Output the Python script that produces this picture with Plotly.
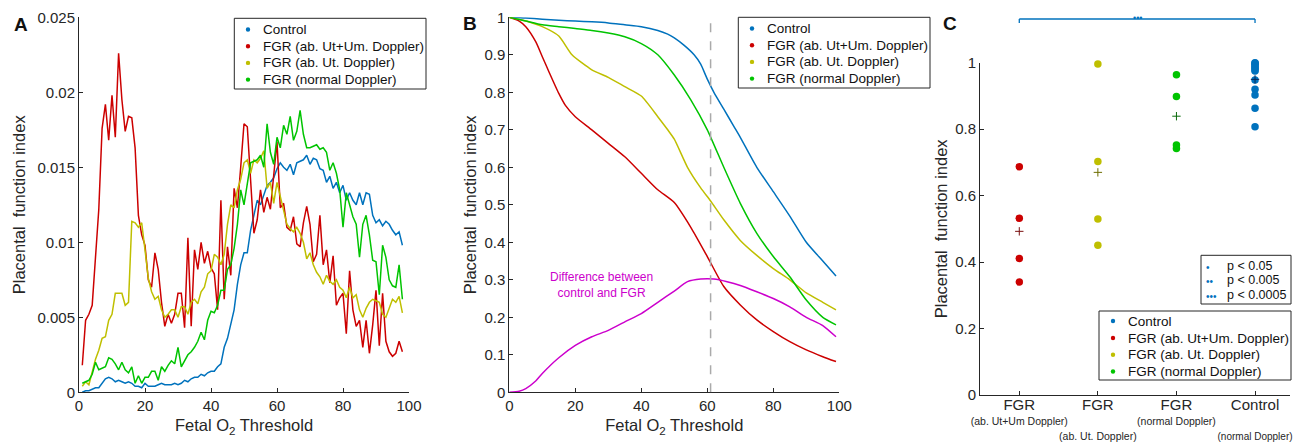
import plotly.graph_objects as go

# ---------------- data ----------------
thr_A = list(range(1, 99))

pfi_control_A = [0.0000, 0.0001, 0.0001, 0.0002, 0.0003, 0.0003, 0.0006, 0.0009, 0.0010, 0.0009,
                 0.0007, 0.0008, 0.0007, 0.0006, 0.0007, 0.0006, 0.0004, 0.0004, 0.0003, 0.0006,
                 0.0004, 0.0004, 0.0004, 0.0005, 0.0006, 0.0005, 0.0005, 0.0005, 0.0006, 0.0005,
                 0.0006, 0.0008, 0.0007, 0.0009, 0.0010, 0.0010, 0.0012, 0.0011, 0.0013, 0.0014,
                 0.0014, 0.0017, 0.0019, 0.0030, 0.0036, 0.0046, 0.0055, 0.0072, 0.0085, 0.0093,
                 0.0093, 0.0108, 0.0118, 0.0128, 0.0125, 0.0132, 0.0138, 0.0140, 0.0143, 0.0149,
                 0.0153, 0.0150, 0.0148, 0.0152, 0.0145, 0.0153, 0.0154, 0.0155, 0.0158, 0.0152,
                 0.0156, 0.0155, 0.0149, 0.0148, 0.0140, 0.0144, 0.0136, 0.0140, 0.0133, 0.0138,
                 0.0128, 0.0133, 0.0128, 0.0125, 0.0133, 0.0125, 0.0133, 0.0132, 0.0118, 0.0113,
                 0.0115, 0.0111, 0.0114, 0.0112, 0.0108, 0.0105, 0.0107, 0.0098]

pfi_utum_A = [0.0018, 0.0048, 0.0052, 0.0058, 0.0090, 0.0122, 0.0176, 0.0192, 0.0168, 0.0198,
              0.0170, 0.0226, 0.0195, 0.0174, 0.0184, 0.0183, 0.0163, 0.0118, 0.0105, 0.0098,
              0.0075, 0.0070, 0.0093, 0.0082, 0.0060, 0.0044, 0.0052, 0.0046, 0.0052, 0.0066,
              0.0066, 0.0043, 0.0103, 0.0044, 0.0095, 0.0082, 0.0100, 0.0086, 0.0094, 0.0083,
              0.0079, 0.0055, 0.0128, 0.0062, 0.0097, 0.0078, 0.0136, 0.0123, 0.0150, 0.0179,
              0.0177, 0.0142, 0.0106, 0.0115, 0.0135, 0.0120, 0.0130, 0.0122, 0.0145, 0.0167,
              0.0123, 0.0126, 0.0110, 0.0108, 0.0117, 0.0099, 0.0097, 0.0113, 0.0124, 0.0112,
              0.0087, 0.0092, 0.0118, 0.0085, 0.0095, 0.0073, 0.0091, 0.0058, 0.0063, 0.0066,
              0.0039, 0.0081, 0.0055, 0.0044, 0.0048, 0.0030, 0.0048, 0.0026, 0.0045, 0.0068,
              0.0031, 0.0066, 0.0034, 0.0027, 0.0024, 0.0026, 0.0034, 0.0027]

pfi_ut_A = [0.0004, 0.0007, 0.0005, 0.0013, 0.0022, 0.0028, 0.0036, 0.0037, 0.0048, 0.0052,
            0.0066, 0.0066, 0.0066, 0.0058, 0.0060, 0.0114, 0.0113, 0.0110, 0.0113, 0.0095,
            0.0076, 0.0067, 0.0062, 0.0064, 0.0055, 0.0050, 0.0052, 0.0055, 0.0055, 0.0050,
            0.0057, 0.0057, 0.0052, 0.0060, 0.0062, 0.0059, 0.0067, 0.0070, 0.0079, 0.0081,
            0.0092, 0.0090, 0.0085, 0.0092, 0.0112, 0.0125, 0.0123, 0.0135, 0.0142, 0.0153,
            0.0155, 0.0146, 0.0155, 0.0153, 0.0156, 0.0161, 0.0136, 0.0140, 0.0126, 0.0140,
            0.0130, 0.0122, 0.0112, 0.0109, 0.0107, 0.0110, 0.0106, 0.0100, 0.0089, 0.0093,
            0.0085, 0.0080, 0.0077, 0.0072, 0.0078, 0.0074, 0.0072, 0.0075, 0.0070, 0.0068,
            0.0063, 0.0070, 0.0063, 0.0065, 0.0055, 0.0050, 0.0056, 0.0060, 0.0062, 0.0061,
            0.0060, 0.0052, 0.0050, 0.0056, 0.0062, 0.0060, 0.0064, 0.0053]

pfi_normal_A = [0.0006, 0.0007, 0.0008, 0.0012, 0.0020, 0.0015, 0.0016, 0.0017, 0.0023, 0.0022,
                0.0019, 0.0015, 0.0020, 0.0015, 0.0013, 0.0017, 0.0006, 0.0011, 0.0006, 0.0010,
                0.0010, 0.0014, 0.0014, 0.0008, 0.0017, 0.0014, 0.0018, 0.0021, 0.0019, 0.0030,
                0.0017, 0.0021, 0.0025, 0.0027, 0.0030, 0.0034, 0.0040, 0.0035, 0.0048, 0.0054,
                0.0053, 0.0058, 0.0068, 0.0068, 0.0082, 0.0085, 0.0096, 0.0112, 0.0135, 0.0125,
                0.0138, 0.0153, 0.0154, 0.0155, 0.0158, 0.0150, 0.0179, 0.0160, 0.0152, 0.0170,
                0.0163, 0.0178, 0.0172, 0.0184, 0.0168, 0.0174, 0.0188, 0.0172, 0.0163, 0.0163,
                0.0164, 0.0165, 0.0162, 0.0163, 0.0160, 0.0148, 0.0153, 0.0146, 0.0135, 0.0110,
                0.0133, 0.0125, 0.0117, 0.0112, 0.0090, 0.0112, 0.0118, 0.0105, 0.0088, 0.0087,
                0.0065, 0.0098, 0.0090, 0.0075, 0.0071, 0.0070, 0.0085, 0.0062]

# Panel B (cumulative curves)
thr_control_B = [0, 5, 10, 15, 20, 25, 30, 35, 40, 45, 48, 50, 53, 56, 58, 60, 62, 65, 68, 70, 75, 80, 85, 90, 95, 99]
pfi_control_B = [1.0, 0.998, 0.995, 0.992, 0.99, 0.988, 0.985, 0.98, 0.975, 0.965, 0.955, 0.945, 0.925, 0.9, 0.875,
                 0.835, 0.8, 0.755, 0.71, 0.68, 0.6, 0.535, 0.47, 0.4, 0.35, 0.31]

thr_utum_B = [0, 3, 5, 8, 10, 12, 15, 17, 20, 25, 30, 35, 40, 45, 50, 55, 60, 65, 70, 75, 80, 85, 90, 95, 99]
pfi_utum_B = [1.0, 0.99, 0.975, 0.935, 0.895, 0.855, 0.797, 0.765, 0.735, 0.70, 0.664, 0.628, 0.584, 0.54, 0.506,
              0.44, 0.362, 0.282, 0.233, 0.193, 0.162, 0.135, 0.113, 0.095, 0.082]

thr_ut_B = [0, 5, 10, 15, 19, 25, 30, 35, 40, 45, 48, 50, 54, 58, 61, 65, 70, 75, 80, 85, 90, 95, 99]
pfi_ut_B = [1.0, 0.99, 0.975, 0.95, 0.9, 0.86, 0.84, 0.815, 0.79, 0.735, 0.7, 0.675, 0.6, 0.545, 0.51, 0.46, 0.405,
            0.365, 0.33, 0.3, 0.265, 0.24, 0.22]

thr_normal_B = [0, 5, 10, 15, 20, 25, 30, 35, 40, 45, 50, 55, 60, 65, 70, 75, 80, 85, 90, 95, 99]
pfi_normal_B = [1.0, 0.99, 0.98, 0.975, 0.97, 0.965, 0.958, 0.948, 0.93, 0.9, 0.846, 0.78, 0.70, 0.60, 0.504,
                0.424, 0.362, 0.308, 0.246, 0.2, 0.18]

thr_diff_B = [0, 3, 5, 8, 10, 15, 20, 25, 30, 35, 40, 45, 50, 54, 58, 62, 66, 70, 75, 80, 85, 90, 95, 99]
pfi_diff_B = [0.0, 0.003, 0.01, 0.03, 0.05, 0.092, 0.125, 0.148, 0.165, 0.188, 0.21, 0.24, 0.27, 0.295, 0.302,
              0.302, 0.295, 0.285, 0.268, 0.25, 0.228, 0.2, 0.178, 0.148]

best_threshold = 61

# Panel C (per-patient placental function index)
group_pos = [1, 2, 3, 4]
group_ticks = ["FGR", "FGR", "FGR", "Control"]
group_sub = ["(ab. Ut+Um Doppler)", "(ab. Ut. Doppler)", "(normal Doppler)", "(normal Doppler)"]
pfi_utum_C = [0.687, 0.532, 0.411, 0.340]
pfi_ut_C = [0.996, 0.703, 0.530, 0.451]
pfi_normal_C = [0.964, 0.898, 0.752, 0.742]
pfi_control_C = [1.0, 0.998, 0.995, 0.99, 0.987, 0.983, 0.978, 0.975, 0.948, 0.92, 0.903, 0.863, 0.807]

legend_names = ["Control", "FGR (ab. Ut+Um. Doppler)", "FGR (ab. Ut. Doppler)", "FGR (normal Doppler)"]
pvalue_labels = ["p < 0.05", "p < 0.005", "p < 0.0005"]
pvalue_stars = ["•", "••", "•••"]

# ---------------- styles ----------------
C_BLUE = "#0072BD"
C_RED = "#CC0000"
C_YEL = "#BFBF00"
C_GRN = "#00C400"
C_MAG = "#CC00CC"
SERIES_COL = [C_BLUE, C_RED, C_YEL, C_GRN]
MEAN_COL = ["#7A1010", "#6E6E00", "#0A6A0A", "#0A2A5A"]
AX = "#262626"
TXT = "#111111"
FONT = "Liberation Sans"
W, H = 1293, 444

fig = go.Figure()

# Panel A
for ys, col, name in zip([pfi_control_A, pfi_utum_A, pfi_ut_A, pfi_normal_A], SERIES_COL, legend_names):
    fig.add_trace(go.Scatter(x=thr_A, y=ys, mode="lines", name=name, line=dict(color=col, width=1.5),
                             showlegend=False, xaxis="x", yaxis="y"))
# Panel B
for xs, ys, col, name in zip([thr_control_B, thr_utum_B, thr_ut_B, thr_normal_B, thr_diff_B],
                             [pfi_control_B, pfi_utum_B, pfi_ut_B, pfi_normal_B, pfi_diff_B],
                             SERIES_COL + [C_MAG], legend_names + ["Difference between control and FGR"]):
    fig.add_trace(go.Scatter(x=xs, y=ys, mode="lines", name=name,
                             line=dict(color=col, width=1.5, shape="spline", smoothing=0.6),
                             showlegend=False, xaxis="x2", yaxis="y2"))
# Panel C points and means
for pos, vals, col, mcol, name in zip(group_pos, [pfi_utum_C, pfi_ut_C, pfi_normal_C, pfi_control_C],
                                      [C_RED, C_YEL, C_GRN, C_BLUE], MEAN_COL,
                                      [legend_names[1], legend_names[2], legend_names[3], legend_names[0]]):
    fig.add_trace(go.Scatter(x=[pos] * len(vals), y=vals, mode="markers", name=name,
                             marker=dict(color=col, size=7.5), cliponaxis=False,
                             showlegend=False, xaxis="x3", yaxis="y3"))
    fig.add_trace(go.Scatter(x=[pos], y=[sum(vals) / len(vals)], mode="markers", name=name + " mean",
                             marker=dict(color=mcol, size=6, symbol="cross-thin", line=dict(color=mcol, width=1)),
                             cliponaxis=False, showlegend=False, xaxis="x3", yaxis="y3"))

ax_common = dict(showline=True, linecolor=AX, linewidth=1, ticks="inside", ticklen=4, tickcolor=AX,
                 showgrid=False, zeroline=False, automargin=False,
                 tickfont=dict(family=FONT, size=15, color=AX))
title_font = dict(family=FONT, size=16.5, color=AX)

yA_vals = [0, 0.005, 0.01, 0.015, 0.02, 0.025]
yB_vals = [0, 0.1, 0.2, 0.3, 0.4, 0.5, 0.6, 0.7, 0.8, 0.9, 1]
xAB_vals = [0, 20, 40, 60, 80, 100]
yC_vals = [0, 0.2, 0.4, 0.6, 0.8, 1]


def fmt(v):
    return "%g" % v


def c_ticklabel(i, t, s):
    gap = "" if i % 2 == 0 else " <br>"
    sub_size = 10 if i == len(group_ticks) - 1 else 10.5
    return ("<span style='font-size:15px'>%s</span><br>%s<span style='font-size:%gpx'>%s</span>"
            % (t, gap, sub_size, s))


fig.update_layout(
    width=W, height=H, template="none", showlegend=False,
    margin=dict(l=0, r=0, t=0, b=0),
    paper_bgcolor="white", plot_bgcolor="white",
    font=dict(family=FONT, color=AX),
    xaxis=dict(ax_common, domain=[79 / W, 409 / W], range=[0, 100], tickvals=xAB_vals,
               ticktext=[fmt(v) for v in xAB_vals],
               title=dict(text="Fetal O<sub>2</sub> Threshold", font=title_font, standoff=6), anchor="y"),
    yaxis=dict(ax_common, domain=[1 - 392.3 / H, 1 - 17.3 / H], range=[0, 0.025], tickvals=yA_vals,
               ticktext=[fmt(v) for v in yA_vals],
               title=dict(text="Placental  function index", font=title_font, standoff=7), anchor="x"),
    xaxis2=dict(ax_common, domain=[509.3 / W, 839.3 / W], range=[0, 100], tickvals=xAB_vals,
                ticktext=[fmt(v) for v in xAB_vals],
                title=dict(text="Fetal O<sub>2</sub> Threshold", font=title_font, standoff=6), anchor="y2"),
    yaxis2=dict(ax_common, domain=[1 - 392.3 / H, 1 - 17.3 / H], range=[0, 1], tickvals=yB_vals,
                ticktext=[fmt(v) for v in yB_vals],
                title=dict(text="Placental  function index", font=title_font, standoff=3), anchor="x2"),
    xaxis3=dict(ax_common, domain=[980 / W, 1290 / W], range=[0.5, 4.445], tickvals=group_pos,
                ticktext=[c_ticklabel(i, t, s) for i, (t, s) in enumerate(zip(group_ticks, group_sub))],
                tickangle=0, ticklabeloverflow="allow",
                tickfont=dict(family=FONT, size=11.5, color=AX), anchor="y3"),
    yaxis3=dict(ax_common, domain=[1 - 395 / H, 1 - 62.7 / H], range=[0, 1], tickvals=yC_vals,
                ticktext=[fmt(v) for v in yC_vals],
                title=dict(text="Placental  function index", font=title_font, standoff=3), anchor="x3"),
)

# dashed vertical line at best threshold (panel B)
fig.add_shape(type="line", xref="x2", yref="y2", x0=best_threshold, x1=best_threshold, y0=0, y1=1,
              line=dict(color="#AAAAAA", width=1.5, dash="dash"))

# difference annotation
fig.add_annotation(xref="x2", yref="y2", x=28, y=0.286, text="Difference between<br>control and FGR",
                   showarrow=False, font=dict(family=FONT, size=12, color=C_MAG), align="center")


# legend boxes (drawn as box + dot + text to keep MATLAB-like compact spacing)
def legend_box(x0, y0, x1, y1, dot_x, text_x, rows_y):
    fig.add_shape(type="rect", xref="paper", yref="paper", x0=x0 / W, x1=x1 / W, y0=1 - y1 / H, y1=1 - y0 / H,
                  line=dict(color=AX, width=1), fillcolor="white", layer="above")
    for name, col, ry in zip(legend_names, SERIES_COL, rows_y):
        fig.add_shape(type="circle", xref="paper", yref="paper", xsizemode="pixel", ysizemode="pixel",
                      xanchor=dot_x / W, yanchor=1 - ry / H, x0=-2.2, x1=2.2, y0=-2.2, y1=2.2,
                      fillcolor=col, line=dict(width=0), layer="above")
        fig.add_annotation(xref="paper", yref="paper", x=text_x / W, y=1 - ry / H, text=name, showarrow=False,
                           xanchor="left", yanchor="middle", font=dict(family=FONT, size=13.5, color=TXT))


legend_box(234.3, 18.3, 426, 89, 248, 261, [29.5, 46.2, 62.9, 79.6])
legend_box(738.3, 17.3, 930, 88, 752, 765, [28.5, 45.2, 61.9, 78.6])
legend_box(1099, 311, 1291, 380, 1113, 1126, [321, 338, 354.7, 371.5])

# significance bracket panel C
br_y, br_tick = 1 - 19 / H, 1 - 23 / H
fig.add_shape(type="line", xref="x3", yref="paper", x0=group_pos[0], x1=group_pos[-1], y0=br_y, y1=br_y,
              line=dict(color=C_BLUE, width=1.3))
for gx in [group_pos[0], group_pos[-1]]:
    fig.add_shape(type="line", xref="x3", yref="paper", x0=gx, x1=gx, y0=br_y, y1=br_tick,
                  line=dict(color=C_BLUE, width=1.3))
fig.add_annotation(xref="x3", yref="paper", x=(group_pos[0] + group_pos[-1]) / 2, y=1 - 10.5 / H,
                   text="•••", showarrow=False, font=dict(family=FONT, size=9, color=C_BLUE))

# p-value legend box
fig.add_shape(type="rect", xref="paper", yref="paper", x0=1201 / W, x1=1291 / W, y0=1 - 304 / H, y1=1 - 255.3 / H,
              line=dict(color=AX, width=1), fillcolor="white", layer="above")
for i, (st, lab) in enumerate(zip(pvalue_stars, pvalue_labels)):
    yy = 1 - (265.5 + 14.8 * i) / H
    fig.add_annotation(xref="paper", yref="paper", x=1203.5 / W, y=yy - 1.5 / H, text=st, showarrow=False,
                       xanchor="left", yanchor="middle", font=dict(family=FONT, size=10, color=C_BLUE))
    fig.add_annotation(xref="paper", yref="paper", x=1225 / W, y=yy, text=lab, showarrow=False,
                       xanchor="left", yanchor="middle", font=dict(family=FONT, size=12.5, color=TXT))

# panel letters
for letter, px, py in [("A", 12, 24), ("B", 461, 23), ("C", 941, 23)]:
    fig.add_annotation(xref="paper", yref="paper", x=px / W, y=1 - py / H, text="<b>%s</b>" % letter,
                       showarrow=False, xanchor="left", yanchor="middle",
                       font=dict(family=FONT, size=19, color=TXT))

fig.write_html("out.html", config={"displayModeBar": False},
               post_script="document.body.style.margin='0';")
